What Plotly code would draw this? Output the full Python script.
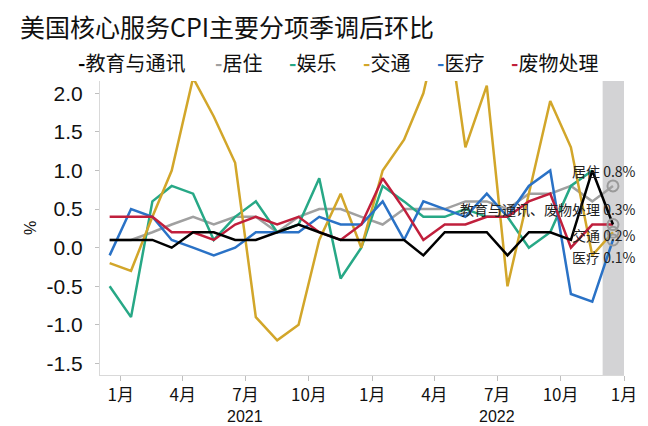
import pandas as pd
import plotly.graph_objects as go

# monthly points Dec 2020 .. Dec 2022 (plotted mid-month)
months = pd.date_range("2020-12-01", "2022-12-01", freq="MS") + pd.Timedelta(days=15)

# series values, % m/m seasonally adjusted
edu_comm = [0.1, 0.1, 0.1, 0.0, 0.2, 0.2, 0.1, 0.1, 0.2, 0.3, 0.2, 0.1, 0.1,
            0.1, 0.1, -0.1, 0.2, 0.2, 0.2, -0.1, 0.2, 0.2, 0.1, 1.0, 0.3]
housing = [0.1, 0.1, 0.2, 0.3, 0.4, 0.3, 0.4, 0.4, 0.2, 0.4, 0.5, 0.5, 0.4,
           0.3, 0.5, 0.5, 0.5, 0.6, 0.6, 0.5, 0.7, 0.7, 0.8, 0.6, 0.8]
recreation = [-0.5, -0.9, 0.6, 0.8, 0.7, 0.1, 0.4, 0.6, 0.2, 0.3, 0.9, -0.4, 0.0,
              0.8, 0.6, 0.4, 0.4, 0.5, 0.4, 0.4, 0.0, 0.2, 0.8, 1.0, None]
transport = [-0.2, -0.3, 0.4, 1.0, 2.2, 1.7, 1.1, -0.9, -1.2, -1.0, 0.1, 0.7, 0.0,
             1.0, 1.4, 2.0, 3.2, 1.3, 2.1, -0.5, 0.7, 1.9, 1.3, -0.1, 0.2]
medical = [-0.1, 0.5, 0.4, 0.1, 0.0, -0.1, 0.0, 0.2, 0.2, 0.2, 0.4, 0.3, 0.3,
           0.6, 0.1, 0.6, 0.5, 0.4, 0.7, 0.4, 0.8, 1.0, -0.6, -0.7, 0.1]
waste = [0.4, 0.4, 0.4, 0.2, 0.2, 0.1, 0.3, 0.4, 0.3, 0.4, 0.2, 0.1, 0.3,
         0.9, 0.5, 0.1, 0.3, 0.3, 0.4, 0.4, 0.6, 0.7, 0.0, 0.3, 0.3]

names = ["教育与通讯", "居住", "娱乐", "交通", "医疗", "废物处理"]
colors = ["#000000", "#a0a0a0", "#27a886", "#d2a62a", "#2a72c6", "#c01f3c"]
series = [edu_comm, housing, recreation, transport, medical, waste]

tick_dates = ["2021-01-01", "2021-04-01", "2021-07-01", "2021-10-01", "2022-01-01",
              "2022-04-01", "2022-07-01", "2022-10-01", "2023-01-01"]
tick_text = ["1月", "4月", "7月", "10月", "1月", "4月", "7月", "10月", "1月"]
y_ticks = [-1.5, -1.0, -0.5, 0.0, 0.5, 1.0, 1.5, 2.0]

CJK = "Noto Sans CJK SC"
LAT = "Liberation Sans, Arial"
W, H = 648, 426
L, R, T, B = 92, 32, 73, 59
pw, ph = W - L - R, H - T - B

fig = go.Figure()

# latest month highlight
fig.add_vrect(x0="2022-12-01", x1="2023-01-01", fillcolor="#d3d3d5", line_width=0, layer="below")

# draw black last so it sits on top
order = [1, 2, 3, 4, 5, 0]
for i in order:
    fig.add_trace(go.Scatter(
        x=months, y=series[i], name=names[i], mode="lines",
        line=dict(color=colors[i], width=2.5), connectgaps=False, showlegend=False
    ))

# open circles on latest labelled values
fig.add_trace(go.Scatter(
    x=[months[-1]] * 4,
    y=[housing[-1], edu_comm[-1], transport[-1], medical[-1]],
    mode="markers",
    marker=dict(symbol="circle-open", size=11, color="#9a9a9a", line=dict(width=2)),
    showlegend=False
))

# legend built as a text row
legend_px = [68, 205, 279, 353, 427, 501]
for name, c, px in zip(names, colors, legend_px):
    fig.add_annotation(
        xref="paper", yref="paper", x=(px - L) / pw, y=(H - B - 54) / ph,
        xanchor="left", yanchor="middle", showarrow=False,
        text=f"<span style='color:{c}'><b>-</b></span>{name}",
        font=dict(family=CJK, size=20, color="#111")
    )

# end labels
labels = [
    (f"居住 {housing[-1]:.1f}%", 0.99),
    (f"教育与通讯、废物处理 {edu_comm[-1]:.1f}%", 0.5),
    (f"交通 {transport[-1]:.1f}%", 0.17),
    (f"医疗 {medical[-1]:.1f}%", -0.12),
]
for txt, yv in labels:
    fig.add_annotation(
        xref="paper", yref="y", x=(630 - L) / pw, y=yv,
        xanchor="right", yanchor="middle", showarrow=False,
        text=txt, font=dict(family=CJK, size=14, color="#222")
    )

# year labels
for yr, d in [("2021", "2021-07-01"), ("2022", "2022-07-01")]:
    fig.add_annotation(
        xref="x", yref="paper", x=d, y=-(408 - (H - B)) / ph,
        xanchor="center", yanchor="middle", showarrow=False,
        text=yr, font=dict(family=LAT, size=16, color="#111")
    )

# y unit
fig.add_annotation(
    xref="paper", yref="paper", x=(22 - L) / pw, y=0.5, textangle=-90,
    xanchor="center", yanchor="middle", showarrow=False,
    text="%", font=dict(family=LAT, size=16, color="#111")
)

fig.update_layout(
    width=W, height=H,
    margin=dict(l=L, r=R, t=T, b=B),
    paper_bgcolor="white", plot_bgcolor="white",
    title=dict(text="美国核心服务CPI主要分项季调后环比", x=12 / W, xanchor="left",
               y=1 - 20 / H, yanchor="middle",
               font=dict(family=CJK, size=25, color="#111")),
    showlegend=False,
)

fig.update_xaxes(
    type="date", range=["2020-12-02", "2023-01-01"],
    tickvals=tick_dates, ticktext=tick_text,
    showgrid=False, zeroline=False,
    showline=True, linecolor="#d9d9d9", linewidth=1,
    ticks="outside", ticklen=5, tickcolor="#bfbfbf",
    tickfont=dict(family=CJK, size=17, color="#111"),
)
fig.update_yaxes(
    range=[-1.65, 2.16],
    tickvals=y_ticks, ticktext=[f"{v:.1f}" for v in y_ticks],
    showgrid=False, zeroline=False,
    showline=True, linecolor="#d9d9d9", linewidth=1,
    ticks="outside", ticklen=4, tickcolor="#bfbfbf", ticklabelstandoff=8,
    tickfont=dict(family=LAT, size=21, color="#111"),
)

fig.write_html("out.html")
